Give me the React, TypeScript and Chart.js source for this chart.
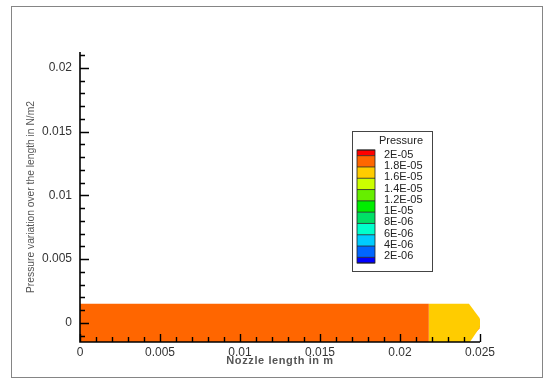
import React, { useEffect, useRef } from 'react';
import { Chart, registerables } from 'chart.js';

Chart.register(...registerables);

// Nozzle length axis (m)
const xTickValues = [0, 0.005, 0.01, 0.015, 0.02, 0.025];
const xTickLabels = ['0', '0.005', '0.01', '0.015', '0.02', '0.025'];
const xMinorStep = 0.001;

// Pressure variation axis (N/m2)
const yTickValues = [0, 0.005, 0.01, 0.015, 0.02];
const yTickLabels = ['0', '0.005', '0.01', '0.015', '0.02'];
const yMinorStep = 0.001;

// Contour levels shown in the legend, top to bottom
const pressureLevels = ['2E-05', '1.8E-05', '1.6E-05', '1.4E-05', '1.2E-05', '1E-05', '8E-06', '6E-06', '4E-06', '2E-06'];
const levelColors = ['#FF0000', '#FF6600', '#FFCC00', '#CCFF00', '#66EE00', '#00EE00', '#00E066', '#00FFCC', '#00CCFF', '#0066FF', '#0000FF'];

// Contour bands along the nozzle (x in m, y in N/m2)
const mainBandX = [0, 0.0218, 0.0218, 0];
const mainBandY = [-0.0015, -0.0015, 0.0015, 0.0015];

const exitBandX = [0.0218, 0.02437, 0.02496, 0.02506, 0.02496, 0.02431, 0.0218];
const exitBandY = [-0.0015, -0.0015, -0.0004, 0, 0.0004, 0.0015, 0.0015];

const tipUpperX = [0.02472, 0.02497, 0.02497, 0.02482];
const tipUpperY = [0.00045, 0.00032, 0.00008, 0.0002];

const tipLowerX = [0.02472, 0.02497, 0.02497, 0.02482];
const tipLowerY = [-0.00075, -0.00045, -0.0002, -0.0004];

const tipCoreX = [0.02493, 0.02508, 0.02508, 0.02493];
const tipCoreY = [0.0002, 0.0001, -0.0003, -0.00035];

const zones = [
  { xs: mainBandX, ys: mainBandY, color: levelColors[1] },
  { xs: exitBandX, ys: exitBandY, color: levelColors[2] },
  { xs: tipUpperX, ys: tipUpperY, color: levelColors[1] },
  { xs: tipLowerX, ys: tipLowerY, color: levelColors[1] },
  { xs: tipCoreX, ys: tipCoreY, color: '#22EEFF' },
];

const X_MIN = 0;
const X_MAX = 0.025;
const Y_MIN = -0.0015;
const Y_MAX = 0.02125;

const TICK_FONT = '"Liberation Sans", Arial, sans-serif';

const framePlugin = {
  id: 'frame',
  afterDraw(chart: any) {
    const ctx: CanvasRenderingContext2D = chart.ctx;
    const { left, right, top, bottom } = chart.chartArea;
    const xs = chart.scales.x;
    const ys = chart.scales.y;

    ctx.save();

    // outer frame
    ctx.strokeStyle = '#858585';
    ctx.lineWidth = 1;
    ctx.strokeRect(11.5, 6.5, 531, 371);

    // axis lines
    ctx.strokeStyle = '#000';
    ctx.lineWidth = 1.6;
    ctx.beginPath();
    ctx.moveTo(left, top);
    ctx.lineTo(left, bottom);
    ctx.lineTo(right, bottom);
    ctx.stroke();

    // inward tick marks
    ctx.lineWidth = 1.4;
    ctx.beginPath();
    for (let i = Math.ceil(X_MIN / xMinorStep); i * xMinorStep <= X_MAX + 1e-9; i++) {
      const v = i * xMinorStep;
      const major = i % 5 === 0;
      const px = Math.round(xs.getPixelForValue(v)) + 0.5;
      ctx.moveTo(px, bottom);
      ctx.lineTo(px, bottom - (major ? 8 : 5));
    }
    for (let i = Math.ceil(Y_MIN / yMinorStep); i * yMinorStep <= Y_MAX + 1e-9; i++) {
      const v = i * yMinorStep;
      const major = i % 5 === 0;
      const py = Math.round(ys.getPixelForValue(v)) + 0.5;
      ctx.moveTo(left, py);
      ctx.lineTo(left + (major ? 9 : 5), py);
    }
    ctx.stroke();

    // axis titles
    ctx.fillStyle = '#555';
    ctx.textAlign = 'center';
    ctx.textBaseline = 'middle';
    ctx.font = 'bold 11px ' + TICK_FONT;
    (ctx as any).letterSpacing = '0.6px';
    ctx.fillText('Nozzle length in m', (left + right) / 2, 361);
    (ctx as any).letterSpacing = '0px';

    ctx.save();
    ctx.translate(31, (top + bottom) / 2);
    ctx.rotate(-Math.PI / 2);
    ctx.font = '11px ' + TICK_FONT;
    const yTitle = 'Pressure variation over the length in N/m2';
    const w = ctx.measureText(yTitle).width;
    ctx.scale(192 / w, 1);
    ctx.fillText(yTitle, 0, 0);
    ctx.restore();

    // contour legend
    const bx = 352.5, by = 131.5, bw = 80, bh = 140;
    ctx.fillStyle = '#fff';
    ctx.fillRect(bx, by, bw, bh);
    ctx.strokeStyle = '#444';
    ctx.lineWidth = 1;
    ctx.strokeRect(bx, by, bw, bh);

    ctx.fillStyle = '#222';
    ctx.textAlign = 'left';
    ctx.font = '11px ' + TICK_FONT;
    ctx.fillText('Pressure', 379, 141);

    const sx = 357, sw = 18, sTop = 150, step = 11.3;
    const edges: number[] = [sTop];
    for (let k = 0; k < pressureLevels.length; k++) edges.push(sTop + step / 2 + step * k);
    edges.push(sTop + step * pressureLevels.length);
    for (let k = 0; k < levelColors.length; k++) {
      ctx.fillStyle = levelColors[k];
      ctx.fillRect(sx, edges[k], sw, edges[k + 1] - edges[k]);
    }
    ctx.strokeStyle = '#222';
    ctx.lineWidth = 0.8;
    for (let k = 0; k < edges.length; k++) {
      ctx.beginPath();
      ctx.moveTo(sx, edges[k]);
      ctx.lineTo(sx + sw, edges[k]);
      ctx.stroke();
    }
    ctx.strokeRect(sx, sTop, sw, edges[edges.length - 1] - sTop);

    ctx.fillStyle = '#222';
    pressureLevels.forEach((lab, k) => {
      ctx.fillText(lab, 384, edges[k + 1] - 1);
    });

    ctx.restore();
  },
};

export default function App() {
  const canvasRef = useRef<HTMLCanvasElement | null>(null);

  useEffect(() => {
    const canvas = canvasRef.current;
    if (!canvas) return;
    const chart = new Chart(canvas, {
      type: 'scatter',
      data: {
        datasets: zones.map((z) => ({
          data: z.xs.map((x, i) => ({ x, y: z.ys[i] })),
          showLine: true,
          fill: 'shape',
          backgroundColor: z.color,
          borderColor: z.color,
          borderWidth: 0,
          pointRadius: 0,
          pointHoverRadius: 0,
          tension: 0,
        })) as any,
      },
      options: {
        responsive: false,
        animation: false,
        devicePixelRatio: 1,
        layout: { padding: { top: 52, right: 66, left: 0, bottom: 0 } },
        plugins: {
          legend: { display: false },
          tooltip: { enabled: false },
        },
        events: [],
        scales: {
          x: {
            type: 'linear',
            min: X_MIN,
            max: X_MAX,
            grid: { display: false, drawTicks: false },
            border: { display: false },
            afterBuildTicks: (s: any) => {
              s.ticks = xTickValues.map((v) => ({ value: v }));
            },
            afterFit: (s: any) => {
              s.height = 38;
            },
            ticks: {
              autoSkip: false,
              maxRotation: 0,
              padding: 3,
              color: '#333',
              font: { family: TICK_FONT, size: 12 },
              callback: (v: any) => {
                const i = xTickValues.findIndex((t) => Math.abs(t - v) < 1e-9);
                return i >= 0 ? xTickLabels[i] : '';
              },
            },
          },
          y: {
            type: 'linear',
            min: Y_MIN,
            max: Y_MAX,
            grid: { display: false, drawTicks: false },
            border: { display: false },
            afterBuildTicks: (s: any) => {
              s.ticks = yTickValues.map((v) => ({ value: v }));
            },
            afterFit: (s: any) => {
              s.width = 80;
            },
            ticks: {
              autoSkip: false,
              padding: 8,
              color: '#333',
              font: { family: TICK_FONT, size: 12 },
              callback: (v: any) => {
                const i = yTickValues.findIndex((t) => Math.abs(t - v) < 1e-9);
                return i >= 0 ? yTickLabels[i] : '';
              },
            },
          },
        },
      },
      plugins: [framePlugin],
    });
    return () => chart.destroy();
  }, []);

  return (
    <div style={{ position: 'absolute', left: 0, top: 0, width: 546, height: 380, background: '#fff' }}>
      <canvas ref={canvasRef} width={546} height={380} style={{ display: 'block' }} />
    </div>
  );
}
